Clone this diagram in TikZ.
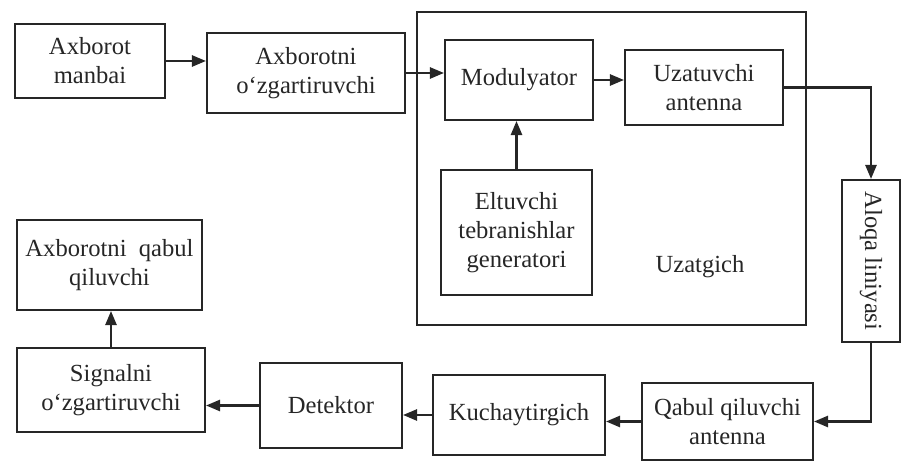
\documentclass[tikz,border=0pt]{standalone}
\usepackage{fontspec}
\setmainfont{Liberation Serif}
\usetikzlibrary{arrows,shapes,positioning,calc}
\usetikzlibrary{arrows.meta}

\begin{document}
\begin{tikzpicture}[->,>={Triangle[length=10pt,width=8pt]},x=0.025cm,y=-0.025cm,
line width=1.5pt,draw=black!85,
font=\fontsize{17.5}{20.5}\selectfont]

\tikzstyle{block}=[rectangle, draw=black!85, line width=1.5pt, text=black!85,
align=center, inner sep=2pt]

\tikzstyle{every edge}=[draw, line width=1.5pt, black!85]

\useasboundingbox (0,0) rectangle (903,464);

% uzatgich qismi
\node[block, minimum width=9.725cm, minimum height=7.825cm]
(uz) at (611.5,168.5) {};

\node[block, minimum width=3.75cm, minimum height=1.85cm]
(src) at (90,61)
{Axborot\\manbai};

\node[block, minimum width=4.95cm, minimum height=2cm]
(conv) at (306,73)
{Axborotni\\o\textquoteleft zgartiruvchi};

\node[block, minimum width=3.7cm, minimum height=2cm]
(mod) at (519,80)
{Modulyator};

\node[block, minimum width=3.95cm, minimum height=1.875cm]
(tx) at (704,87.5)
{Uzatuvchi\\antenna};

\node[block, minimum width=3.775cm, minimum height=3.125cm]
(gen) at (516.5,232.5)
{Eltuvchi\\tebranishlar\\generatori};

\node[text=black!85] (uzl) at (700,267) {Uzatgich};

% aloqa liniyasi
\node[block, minimum width=4.05cm, minimum height=1.45cm, rotate=-90]
(line) at (871,261)
{Aloqa liniyasi};

% qabul qismi
\node[block, minimum width=4.275cm, minimum height=1.925cm]
(rx) at (727.5,421.5)
{Qabul qiluvchi\\antenna};

\node[block, minimum width=4.3cm, minimum height=2cm]
(amp) at (519,415)
{Kuchaytirgich};

\node[block, minimum width=3.55cm, minimum height=2.125cm]
(det) at (331,405.5)
{Detektor};

\node[block, minimum width=4.7cm, minimum height=2.1cm]
(sconv) at (111,390)
{Signalni\\o\textquoteleft zgartiruvchi};

\node[block, minimum width=4.625cm, minimum height=2.25cm]
(recv) at (109.5,265)
{Axborotni\ \ qabul\\qiluvchi};

\path[->] (src.east) edge (src.east -| conv.west);
\path[->] (conv.east) edge (conv.east -| mod.west);
\path[->] (mod.east) edge (mod.east -| tx.west);
\path[->] (gen.north) edge (gen.north |- mod.south);
\draw[->] (tx.east) -| (line.west);
\draw[->] (line.east) |- (rx.east);
\path[->] (rx.west) edge (rx.west -| amp.east);
\path[->] (amp.west) edge (amp.west -| det.east);
\path[->] (det.west) edge (det.west -| sconv.east);
\path[->] (sconv.north) edge (sconv.north |- recv.south);

\end{tikzpicture}
\end{document}
